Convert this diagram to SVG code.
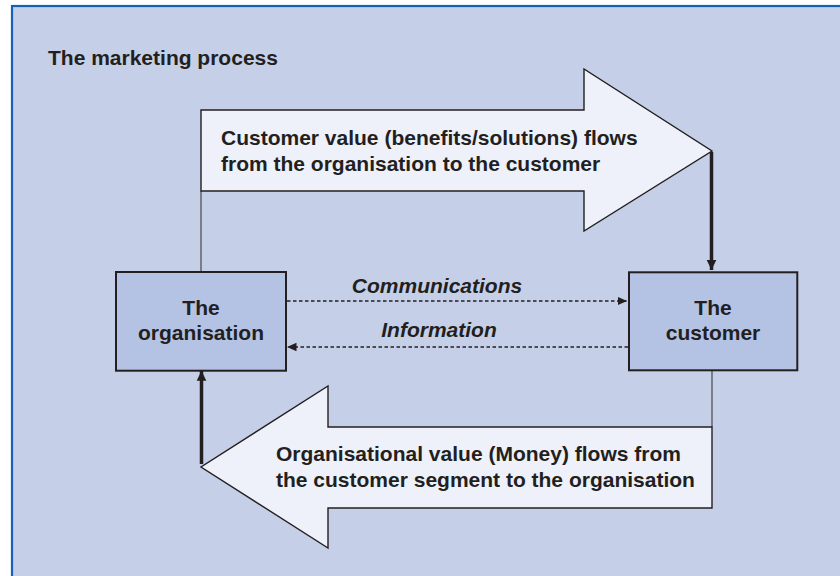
<svg xmlns="http://www.w3.org/2000/svg" width="840" height="576" viewBox="0 0 840 576">
<defs>
<marker id="ah" markerUnits="userSpaceOnUse" markerWidth="12" markerHeight="12" viewBox="0 0 12 12" refX="10" refY="6" orient="auto">
<path d="M0,1.2 L10,6 L0,10.8 Z" fill="#231f20"/>
</marker>
<marker id="ad" markerUnits="userSpaceOnUse" markerWidth="11" markerHeight="11" viewBox="0 0 11 11" refX="9.5" refY="5.5" orient="auto">
<path d="M0,1.2 L9.5,5.5 L0,9.8 Z" fill="#231f20"/>
</marker>
<style>
.t{font-family:"Liberation Sans",Arial,sans-serif;font-weight:bold;font-size:21px;fill:#231f20}
.i{font-style:italic}
.box{fill:#b4c3e4;stroke:#231f20;stroke-width:2}
.big{fill:#eef1f9;stroke:#231f20;stroke-width:1.4;stroke-linejoin:miter}
.thin{stroke:#3a3a3a;stroke-width:1.1;fill:none}
.thick{stroke:#231f20;stroke-width:3.5;fill:none}
.dash{stroke:#231f20;stroke-width:1.6;stroke-dasharray:3.5 2.5;fill:none}
</style>
</defs>
<rect x="0" y="0" width="840" height="576" fill="#ffffff"/>
<rect x="12" y="6" width="860" height="600" fill="#c5d0e8" stroke="#1660b8" stroke-width="2.2"/>
<text class="t" x="48" y="65">The marketing process</text>

<g id="connectors">
<line class="thin" x1="201" y1="191" x2="201" y2="272"/>
<line class="thick" x1="711.5" y1="152" x2="711.5" y2="270" marker-end="url(#ah)"/>
<line class="thin" x1="712" y1="370" x2="712" y2="427"/>
<line class="thick" x1="201.5" y1="464" x2="201.5" y2="370.7" marker-end="url(#ah)"/>
<line class="dash" x1="287" y1="301" x2="627" y2="301" marker-end="url(#ad)"/>
<line class="dash" x1="628" y1="347" x2="287" y2="347" marker-end="url(#ad)"/>
<text class="t i" x="437" y="293" text-anchor="middle">Communications</text>
<text class="t i" x="439" y="337" text-anchor="middle">Information</text>
</g>

<g id="customer-value">
<polygon class="big" points="201,110 584,110 584,69 712,151 584,231 584,191 201,191"/>
<text class="t" x="221" y="145">Customer value (benefits/solutions) flows</text>
<text class="t" x="221" y="170.7">from the organisation to the customer</text>
</g>

<g id="organisational-value">
<polygon class="big" points="712,427 328,427 328,386 201,467 328,548 328,508 712,508"/>
<text class="t" x="276" y="460.7">Organisational value (Money) flows from</text>
<text class="t" x="276" y="486.7">the customer segment to the organisation</text>
</g>

<g id="organisation">
<rect class="box" x="116" y="272" width="170" height="98.7"/>
<text class="t" x="201" y="315" text-anchor="middle">The</text>
<text class="t" x="201" y="340" text-anchor="middle">organisation</text>
</g>

<g id="customer">
<rect class="box" x="629" y="272.3" width="168.3" height="98"/>
<text class="t" x="713" y="315" text-anchor="middle">The</text>
<text class="t" x="713" y="340" text-anchor="middle">customer</text>
</g>
</svg>
